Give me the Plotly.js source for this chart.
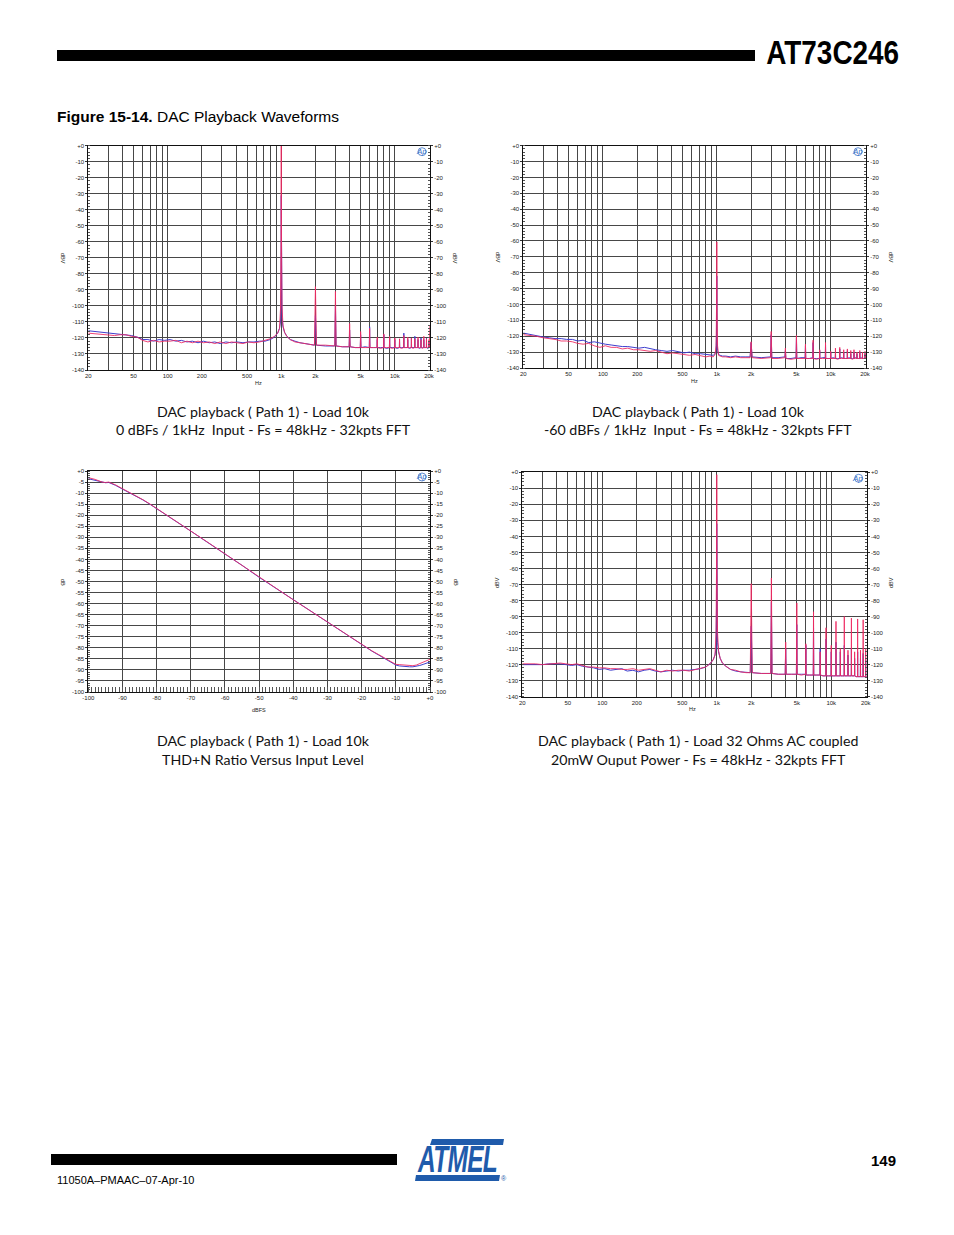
<!DOCTYPE html>
<html><head><meta charset="utf-8">
<script src="https://cdn.plot.ly/plotly-3.0.1.min.js"></script>
<style>
html,body{margin:0;padding:0;background:#fff;}
#wrap{position:relative;width:954px;height:1235px;}
#page{width:954px;height:1235px;}
.ov{position:absolute;white-space:nowrap;margin:0;padding:0;}
#hdr{right:55px;top:36px;font:bold 33px/33px 'Liberation Sans',Arial,sans-serif;color:#000;transform:scaleX(0.846);transform-origin:right top;}
#logo{left:418px;top:1142px;font:italic bold 36px/36px 'Liberation Sans',Arial,sans-serif;color:#1f5bab;transform:scaleX(0.68);transform-origin:left top;letter-spacing:-1px;}
</style>
</head><body><div id="wrap"><div id="page"></div>
<div class="ov" id="hdr">AT73C246</div>
<div class="ov" id="logo">ATMEL</div>
</div>
<script>
// ---------- DATA ----------
const freqHz = [
 20,23,26,30,34,38,43,48,54,60,
 67,75,84,94,105,118,132,148,165,185,
 207,232,260,290,325,365,410,460,515,575,
 645,720,800,870,930,965,985,995,
 1000,1005,1015,1035,1070,1120,1200,1320,1460,1620,1800,1960,2000,2040,
 2450,2960,3000,3040, 3450,3960,4000,4040, 4480,4960,5000,5040, 5480,5960,6000,6040,
 6480,6960,7000,7040, 7480,7960,8000,8040, 8480,8960,9000,9040, 9480,9960,10000,10040,
 10480,10960,11000,11040, 11480,11960,12000,12040, 12480,12960,13000,13040, 13480,13960,14000,14040,
 14480,14960,15000,15040, 15480,15960,16000,16040, 16480,16960,17000,17040, 17480,17960,18000,18040,
 18480,18960,19000,19040, 19480,19960,20000,20040,
 20400];

// Chart 1: 0 dBFS / 1 kHz, Load 10k
const fft0dB_blue = [
 -115.5,-116,-116.5,-117,-117,-117.5,-118,-118.5,-119.5,-121,
 -121,-122,-121,-121.5,-121,-122,-121.5,-122.5,-122,-123,
 -122,-123,-122.5,-123.5,-122.5,-123,-122.5,-123,-122.5,-122.5,
 -122,-122,-121,-119.5,-117,-114,-110,-90,
 -31,-88,-107,-113,-116.5,-119,-121,-122,-123,-123.5,-124,-124.5,-106,-124.5,
 -125,-125,-100,-125, -125.5,-125.5,-115,-125.5, -126,-126,-118,-126, -125.5,-126,-113,-126,
 -126,-126,-121,-126, -126,-126,-118,-126, -126.5,-126,-120,-126, -126,-126,-121,-126,
 -126.5,-126,-121,-126, -126,-126,-117,-126, -126,-126,-121,-126, -126.5,-126,-120,-126,
 -126,-126,-119,-126, -126,-126,-121,-126, -126.5,-126,-120,-126, -126,-126,-121,-126,
 -126,-126,-120,-126, -126.5,-126,-122,-126,
 -125];
const fft0dB_red = [
 -117,-117.5,-118,-118.5,-118.5,-118,-118,-119,-119.5,-121.5,
 -122.5,-121.5,-122.5,-122,-122,-121.5,-123,-122,-123,-122,
 -123,-122.5,-123.5,-122.5,-123.5,-122.5,-123,-123.5,-122.5,-123,
 -122.5,-121.5,-120.5,-119,-117,-114,-102,-60,
 0,-60,-100,-112,-116.5,-119,-121,-122.5,-123,-123.5,-124,-124.5,-88,-124.5,
 -124.5,-125,-91,-125, -125.5,-125.5,-111,-125.5, -126,-126,-116,-126, -126,-126,-114,-126,
 -126,-126,-119.5,-126, -126.5,-126,-117.5,-126, -126,-126,-119,-126, -126.5,-126,-120,-126,
 -126,-126,-120.5,-126, -126.5,-126,-118.5,-126, -126,-126,-119.5,-126, -126,-126,-120,-126,
 -126.5,-126,-120.5,-126, -126,-126,-119.5,-126, -126,-126,-121,-126, -126.5,-126,-119,-126,
 -126,-126,-120.5,-126, -126,-126,-121,-126,
 -112];

// Chart 2: -60 dBFS / 1 kHz, Load 10k
const fftM60_blue = [
 -118,-119,-119.5,-120.5,-121,-121.5,-121.5,-122,-122,-123,
 -122.5,-124,-123.5,-124.5,-125,-125.5,-126,-126.5,-126.5,-127,
 -127.5,-127,-128,-128.5,-129,-129.5,-129,-130,-130.5,-130,
 -131,-131,-131.5,-131.5,-132,-131,-129,-118,
 -82,-118,-129,-131.5,-132,-132.5,-132.5,-133,-132.5,-133,-133,-133,-124,-133,
 -133.5,-133,-119,-133.5, -133.5,-133,-129,-134, -134,-133.5,-121,-134, -133.5,-133.5,-126,-134,
 -134,-133.5,-124,-134, -134,-134,-129,-134, -133.5,-133.5,-125.5,-134, -134,-134,-130,-134,
 -133.5,-134,-131,-134, -134,-134,-128,-134, -133.5,-134,-130,-134, -134,-134,-129,-134,
 -133.5,-134,-131,-134, -134,-134,-130,-134, -133.5,-134,-131,-134, -134,-134,-130,-134,
 -133.5,-134,-131,-134, -134,-134,-131,-134,
 -133.5];
const fftM60_red = [
 -119,-119.5,-120,-121,-121.5,-122,-123,-123,-123.5,-124.5,
 -125,-124.5,-126,-127,-126,-127,-127,-128,-127.5,-128.5,
 -128.5,-129,-129.5,-129,-130,-131,-130.5,-131,-131.5,-132,
 -131.5,-132.5,-133,-132.5,-133,-131.5,-126,-100,
 -60.5,-100,-126,-132,-132.5,-133,-133,-133.5,-133,-133.5,-133.5,-133.5,-123.5,-133.5,
 -134,-133.5,-117,-134, -134,-133.5,-127.5,-134, -134.5,-134,-119.5,-134, -134,-134,-125,-134,
 -134,-134,-122.5,-134, -134.5,-134,-128.5,-134, -134,-134,-124,-134, -134,-134,-129.5,-134,
 -134,-134,-127.5,-134, -134.5,-134,-127,-134, -134,-134,-128.5,-134, -134,-134,-128,-134,
 -134,-134,-129,-134, -134.5,-134,-128.5,-134, -134,-134,-130,-134, -134,-134,-129,-134,
 -134,-134,-130,-134, -134,-134,-129.5,-134,
 -133.5];

// Chart 4: Load 32 Ohms AC coupled, 20 mW
const fft32R_blue = [
 -120,-120,-120,-120,-119.5,-119.5,-119.5,-120,-120.5,-120,
 -121,-121.5,-122,-123,-122.5,-123.5,-123,-122.5,-124,-123.5,
 -124.5,-123.5,-123,-124,-124.5,-124,-123.5,-124,-123.5,-123.5,
 -123,-122.5,-121.5,-119.5,-117,-114,-110,-84,
 -32,-85,-106,-112,-116,-119,-121,-123,-124,-124.5,-125,-125,-96,-125,
 -125.5,-125.5,-81,-125.5, -126,-126,-110,-126, -126,-126,-95,-126, -126,-126,-108,-126.5,
 -126.5,-126.5,-97,-126.5, -126.5,-126.5,-110,-126.5, -127,-127,-104,-127, -127,-127,-112,-127,
 -127,-127,-106,-127, -127,-127,-112,-127, -127,-127,-108,-127, -127,-127,-114,-127,
 -127,-127,-110,-127, -127,-127,-116,-127, -127.5,-127.5,-112,-127.5, -127.5,-127.5,-116,-127.5,
 -127.5,-127.5,-113,-127.5, -127.5,-127.5,-117,-127.5,
 -127.5];
const fft32R_red = [
 -119.5,-119.5,-119.5,-120,-119.5,-119.5,-119,-119.5,-120,-119.5,
 -120.5,-121.5,-121.5,-122,-122,-122.5,-122.5,-123,-123,-122.5,
 -123.5,-123,-122.5,-123.5,-124.5,-123.5,-124,-123.5,-123.5,-124,
 -123,-122.5,-121.5,-119.5,-117,-114,-100,-60,
 -1.5,-60,-100,-111,-116,-119,-121,-123,-123.5,-124.5,-125,-125,-69.5,-125,
 -125.5,-125.5,-66,-125.5, -126,-126,-106,-126, -126,-126,-81.5,-126, -126.5,-126,-107,-126.5,
 -126.5,-126.5,-87,-126.5, -126.5,-126.5,-112,-126.5, -127,-127,-97,-127, -127,-127,-108,-127,
 -127,-127,-93,-127, -127,-127,-110,-127, -127,-127,-90,-127, -127,-127,-111,-127,
 -127,-127,-91,-127, -127,-127,-112,-127, -127.5,-127.5,-91.5,-127.5, -127.5,-127.5,-111,-127.5,
 -127.5,-127.5,-92,-127.5, -127.5,-127.5,-110,-127.5,
 -127.5];

// Chart 3: THD+N ratio versus input level
const levelDBFS = [-100,-98,-96,-95,-94,-92,-90,-88,-86,-84,-82,-80,-75,-70,-65,-60,-55,-50,-45,-40,
 -35,-30,-25,-20,-17,-15,-13,-11,-10,-9,-8,-7,-6,-5,-4,-3,-2,-1,0];
const thdn_blue = [-3.5,-4.2,-5.0,-5.3,-5.2,-6.5,-8.2,-9.8,-11.3,-13.1,-15.0,-17.0,-21.9,-27.2,-32.4,-37.4,-42.7,-48.1,-53.2,-58.2,
 -63.4,-68.3,-73.5,-78.7,-81.5,-83.3,-85.2,-87.0,-87.8,-88.2,-88.4,-88.5,-88.6,-88.6,-88.4,-88.0,-87.5,-87.0,-86.4];
const thdn_red = [-3.0,-3.8,-5.0,-5.2,-5.0,-6.3,-8.0,-9.6,-11.2,-13.0,-14.9,-16.9,-22.0,-27.1,-32.3,-37.5,-42.8,-48.0,-53.1,-58.3,
 -63.3,-68.4,-73.6,-78.6,-81.4,-83.1,-85.0,-86.8,-87.5,-87.6,-87.8,-87.9,-88.0,-88.1,-87.8,-87.2,-86.6,-86.0,-85.2];

// Tick labels
const hzTickVals = [20,30,40,50,60,70,80,90,100,200,300,400,500,600,700,800,900,1000,2000,3000,4000,5000,6000,7000,8000,9000,10000,20000];
const hzTickText = ['20','','','50','','','','','100','200','','','500','','','','','1k','2k','','','5k','','','','','10k','20k'];
const dbvTickVals = [0,-10,-20,-30,-40,-50,-60,-70,-80,-90,-100,-110,-120,-130,-140];
const dbvTickText = ['+0','-10','-20','-30','-40','-50','-60','-70','-80','-90','-100','-110','-120','-130','-140'];
const thdTickVals = [0,-5,-10,-15,-20,-25,-30,-35,-40,-45,-50,-55,-60,-65,-70,-75,-80,-85,-90,-95,-100];
const thdTickText = ['+0','-5','-10','-15','-20','-25','-30','-35','-40','-45','-50','-55','-60','-65','-70','-75','-80','-85','-90','-95','-100'];
const lvlTickVals = [-100,-90,-80,-70,-60,-50,-40,-30,-20,-10,0];
const lvlTickText = ['-100','-90','-80','-70','-60','-50','-40','-30','-20','-10','+0'];

const captions = [
 ['DAC playback ( Path 1) - Load 10k', '0 dBFs / 1kHz\u00a0 Input - Fs = 48kHz - 32kpts FFT'],
 ['DAC playback ( Path 1) - Load 10k', '-60 dBFs / 1kHz\u00a0 Input - Fs = 48kHz - 32kpts FFT'],
 ['DAC playback ( Path 1) - Load 10k', 'THD+N Ratio Versus Input Level'],
 ['DAC playback ( Path 1) - Load 32 Ohms AC coupled', '20mW Ouput Power - Fs = 48kHz - 32kpts FFT']
];

// ---------- LAYOUT ----------
const W = 954, H = 1235;
const px = x => x / W, py = y => 1 - y / H;
const BLUE = 'rgb(62,62,205)', RED = 'rgb(238,42,98)';
const GRID = '#474747';
const tickFont = {family:'Liberation Sans, Arial, sans-serif', size:6, color:'#222'};
const smallFont = {family:'Liberation Sans, Arial, sans-serif', size:5.5, color:'#222'};
const capFont = {family:'Lato, Open Sans, sans-serif', size:14.2, color:'#111'};

const boxes = [
 {x0:88.3, x1:430,   y0:145.7, y1:370},
 {x0:523.3,x1:866,   y0:145.7, y1:368},
 {x0:88.3, x1:430,   y0:471,   y1:692},
 {x0:522.3,x1:866.7, y0:472.3, y1:696.7}
];

const layout = {
  width:W, height:H, margin:{l:0,r:0,t:0,b:0},
  paper_bgcolor:'rgba(0,0,0,0)', plot_bgcolor:'#fff', showlegend:false,
  font:{family:'Liberation Sans, Arial, sans-serif', color:'#000'},
  shapes:[], annotations:[]
};
const traces = [];

function xFFT(b){
  return {domain:[px(b.x0),px(b.x1)], type:'log', range:[Math.log10(20),Math.log10(20400)],
    tickmode:'array', tickvals:hzTickVals, ticktext:hzTickText, ticks:'', tickfont:tickFont,
    showgrid:true, gridcolor:GRID, gridwidth:1, showline:true, linecolor:'#111', linewidth:1, mirror:true,
    zeroline:false, fixedrange:true};
}
function yAxis(b, range, vals, text, minorD, side, overlay, anchor){
  const a = {domain:[py(b.y1),py(b.y0)], range:range, tickmode:'array', tickvals:vals, ticktext:text,
    ticks:'outside', ticklen:2, tickcolor:'#333', tickfont:tickFont,
    showgrid:!overlay, gridcolor:GRID, gridwidth:1, showline:true, linecolor:'#111', linewidth:1, mirror:!overlay,
    zeroline:false, fixedrange:true, side:side, anchor:anchor,
    minor:{tickmode:'linear', tick0:0, dtick:minorD, ticks:'inside', ticklen:2, tickcolor:'#555', showgrid:false}};
  if (overlay){ a.overlaying = overlay; delete a.domain; }
  return a;
}

const fftSets = [[fft0dB_blue, fft0dB_red], [fftM60_blue, fftM60_red], null, [fft32R_blue, fft32R_red]];

for (let i=0;i<4;i++){
  const b = boxes[i], n = i+1;
  const xk = n===1?'xaxis':'xaxis'+n, yk = n===1?'yaxis':'yaxis'+n;
  const xr = n===1?'x':'x'+n, yr = n===1?'y':'y'+n;
  const yRk = 'yaxis'+(n+4), yRr = 'y'+(n+4);
  if (i !== 2){
    layout[xk] = xFFT(b);
    layout[xk].anchor = yr;
    layout[yk] = yAxis(b, [-140,0], dbvTickVals, dbvTickText, 2, 'left', null, xr);
    layout[yRk] = yAxis(b, [-140,0], dbvTickVals, dbvTickText, 2, 'right', yr, xr);
    const s = fftSets[i];
    traces.push({x:freqHz, y:s[0], xaxis:xr, yaxis:yr, type:'scatter', mode:'lines', line:{color:BLUE,width:1}, hoverinfo:'skip'});
    traces.push({x:freqHz, y:s[1], xaxis:xr, yaxis:yr, type:'scatter', mode:'lines', line:{color:RED,width:1}, opacity:0.88, hoverinfo:'skip'});
  } else {
    layout[xk] = {domain:[px(b.x0),px(b.x1)], range:[-100,0], tickmode:'array', tickvals:lvlTickVals, ticktext:lvlTickText,
      ticks:'', tickfont:tickFont, showgrid:true, gridcolor:GRID, gridwidth:1, showline:true, linecolor:'#111', linewidth:1, mirror:true,
      zeroline:false, fixedrange:true, anchor:yr,
      minor:{tickmode:'linear', tick0:0, dtick:1, ticks:'inside', ticklen:5, tickcolor:'#555', showgrid:false}};
    layout[yk] = yAxis(b, [-100,0], thdTickVals, thdTickText, 1, 'left', null, xr);
    layout[yRk] = yAxis(b, [-100,0], thdTickVals, thdTickText, 1, 'right', yr, xr);
    traces.push({x:levelDBFS, y:thdn_blue, xaxis:xr, yaxis:yr, type:'scatter', mode:'lines', line:{color:BLUE,width:1}, hoverinfo:'skip'});
    traces.push({x:levelDBFS, y:thdn_red, xaxis:xr, yaxis:yr, type:'scatter', mode:'lines', line:{color:RED,width:1}, opacity:0.88, hoverinfo:'skip'});
  }
  traces.push({x:[], y:[], xaxis:xr, yaxis:yRr, type:'scatter', mode:'lines', hoverinfo:'skip'});

  // Ap logo
  const lx = b.x1 - 9, ly = b.y0 + 6;
  layout.annotations.push({xref:'paper', yref:'paper', x:px(lx), y:py(ly), text:'<i>Ap</i>', showarrow:false,
    font:{family:'Liberation Sans, Arial', size:8, color:'#3a72c8'}, xanchor:'center', yanchor:'middle'});
  layout.shapes.push({type:'circle', xref:'paper', yref:'paper', x0:px(lx-3), x1:px(lx+5), y0:py(ly+4), y1:py(ly-4),
    line:{color:'#3a72c8', width:0.8}});

  // captions
  const cx = i%2===0 ? 263 : 698;
  const cy = i<2 ? 411 : 740;
  layout.annotations.push({xref:'paper', yref:'paper', x:px(cx), y:py(cy), text:captions[i][0], showarrow:false,
    font:capFont, xanchor:'center', yanchor:'middle'});
  layout.annotations.push({xref:'paper', yref:'paper', x:px(cx), y:py(cy+19), text:captions[i][1], showarrow:false,
    font:capFont, xanchor:'center', yanchor:'middle'});
}

// axis titles
function small(x,y,t,ang){
  layout.annotations.push({xref:'paper', yref:'paper', x:px(x), y:py(y), text:t, showarrow:false, textangle:ang||0,
    font:smallFont, xanchor:'center', yanchor:'middle'});
}
small(63,258,'dBV',90); small(455,258,'dBV',90);
small(498,257,'dBV',90); small(891,257,'dBV',90);
small(63,582,'dB',90);  small(456,582,'dB',90);
small(497,583,'dBV',-90); small(891,583,'dBV',-90);
small(258,383,'Hz'); small(694,381,'Hz'); small(692,709,'Hz'); small(259,710,'dBFS');

// header
layout.shapes.push({type:'rect', xref:'paper', yref:'paper', x0:px(57), x1:px(755), y0:py(61), y1:py(50), fillcolor:'#000', line:{width:0}});
layout.annotations.push({xref:'paper', yref:'paper', x:px(55), y:py(117), text:'<b>Figure 15-14.</b> DAC Playback Waveforms', showarrow:false,
  font:{family:'Liberation Sans, Arial', size:15.5, color:'#000'}, xanchor:'left', yanchor:'middle'});

// footer
layout.shapes.push({type:'rect', xref:'paper', yref:'paper', x0:px(51), x1:px(397), y0:py(1165), y1:py(1154), fillcolor:'#000', line:{width:0}});
layout.annotations.push({xref:'paper', yref:'paper', x:px(55), y:py(1180), text:'11050A–PMAAC–07-Apr-10', showarrow:false,
  font:{family:'Liberation Sans, Arial', size:11, color:'#000'}, xanchor:'left', yanchor:'middle'});
layout.annotations.push({xref:'paper', yref:'paper', x:px(898), y:py(1160), text:'<b>149</b>', showarrow:false,
  font:{family:'Liberation Sans, Arial', size:15, color:'#000'}, xanchor:'right', yanchor:'middle'});
// Atmel logo bars
const ABL = '#1f5bab';
layout.shapes.push({type:'path', xref:'paper', yref:'paper', fillcolor:ABL, line:{width:0},
  path:`M ${px(432)} ${py(1139)} L ${px(504)} ${py(1139)} L ${px(503)} ${py(1145)} L ${px(430)} ${py(1145)} Z`});
layout.shapes.push({type:'path', xref:'paper', yref:'paper', fillcolor:ABL, line:{width:0},
  path:`M ${px(416)} ${py(1175)} L ${px(500)} ${py(1175)} L ${px(499)} ${py(1181)} L ${px(415)} ${py(1181)} Z`});
layout.annotations.push({xref:'paper', yref:'paper', x:px(504), y:py(1178), text:'®', showarrow:false,
  font:{family:'Liberation Sans, Arial', size:7, color:ABL}, xanchor:'center', yanchor:'middle'});

Plotly.newPlot('page', traces, layout, {staticPlot:true, displayModeBar:false});
</script>
</body></html>
